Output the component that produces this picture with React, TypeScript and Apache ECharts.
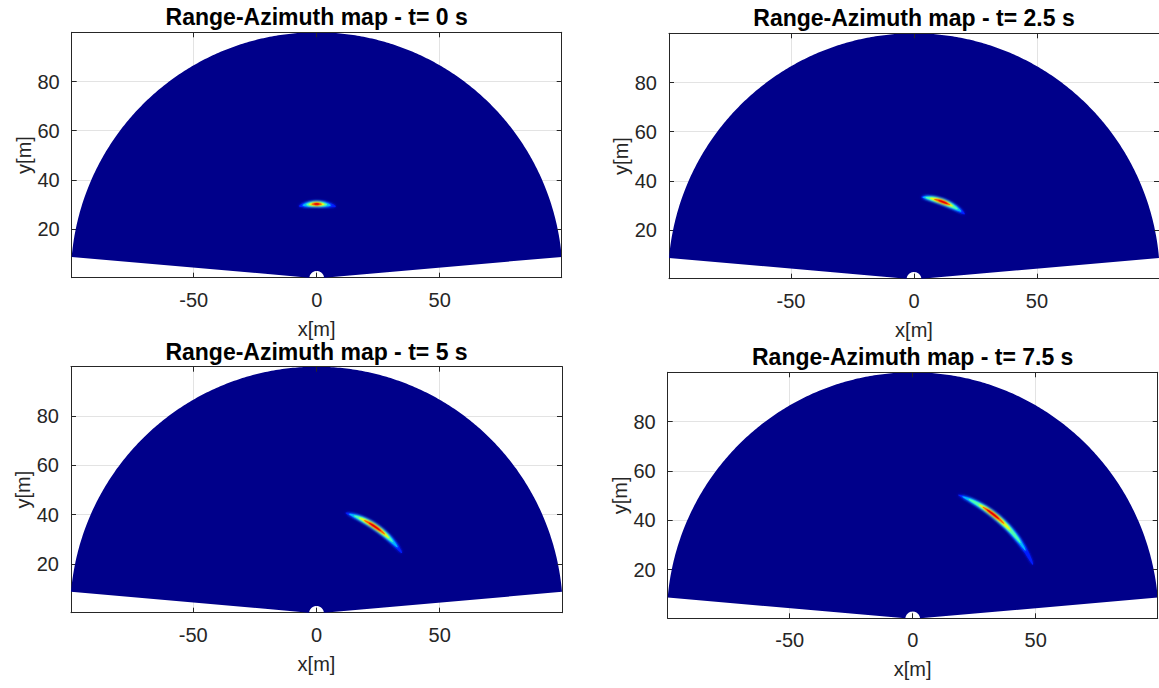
import React, { useEffect, useRef } from 'react';
import * as echarts from 'echarts';

// ---- data ----
const frameTimes = ['0', '2.5', '5', '7.5'];
const fanRangeLimits = [3, 100]; // m
const fanAzimuthLimits = [5, 175]; // deg
const targetRange = [30.2, 33.6, 42.4, 53.6]; // m, per frame
const intensityLevels = [0.15, 0.3, 0.45, 0.6, 0.78, 0.9];
const levelHalfWidth = [1.25, 1.0, 0.8, 0.62, 0.46, 0.3]; // m (radial half extent)
const levelAzStart = [
  [75, 79, 82, 84, 86, 88],
  [52, 55, 58, 62, 64, 66],
  [35, 39, 43, 46, 49, 52],
  [24, 31, 35, 42, 46, 49],
];
const levelAzEnd = [
  [104, 101, 98, 96, 94, 92],
  [85, 84, 82, 79, 76, 73],
  [74, 72, 69, 66, 63, 60],
  [70, 68, 65, 60, 58, 56],
];

// ---- layout ----
const GRIDS = [
  { left: 71.7, top: 32.3, width: 490, height: 245.4 },
  { left: 669, top: 33.3, width: 490, height: 245.4 },
  { left: 71, top: 366.7, width: 491, height: 246 },
  { left: 667.7, top: 372.3, width: 490, height: 246 },
];
const FONT = '"Liberation Sans", Arial, Helvetica, sans-serif';
const AXIS_COLOR = '#262626';

function jet(v: number): string {
  const c = (x: number) => Math.max(0, Math.min(1, x));
  const r = c(1.5 - Math.abs(4 * v - 3));
  const g = c(1.5 - Math.abs(4 * v - 2));
  const b = c(1.5 - Math.abs(4 * v - 1));
  return `rgb(${Math.round(r * 255)},${Math.round(g * 255)},${Math.round(b * 255)})`;
}

const D2R = Math.PI / 180;

export default function App() {
  const ref = useRef<HTMLDivElement>(null);
  useEffect(() => {
    if (!ref.current) return;
    const chart = echarts.init(ref.current, null, { renderer: 'svg' });

    const rMin = fanRangeLimits[0];
    const rMax = fanRangeLimits[1];
    const xMax = rMax * Math.cos(fanAzimuthLimits[0] * D2R);
    const yMin = rMin * Math.sin(fanAzimuthLimits[0] * D2R);
    const yMax = rMax;

    const xAxes: any[] = [];
    const yAxes: any[] = [];
    const series: any[] = [];
    const graphics: any[] = [];

    GRIDS.forEach((g, i) => {
      const common = {
        gridIndex: i,
        type: 'value',
        axisLine: { show: true, onZero: false, lineStyle: { color: AXIS_COLOR, width: 1 } },
        axisTick: { show: true, inside: true, length: 5, lineStyle: { color: AXIS_COLOR } },
      };
      xAxes.push({
        ...common,
        position: 'bottom',
        min: -xMax,
        max: xMax,
        splitNumber: 4,
        axisLabel: {
          showMinLabel: false,
          showMaxLabel: false,
          fontSize: 20,
          color: AXIS_COLOR,
          fontFamily: FONT,
          margin: 12,
        },
        splitLine: { show: true, lineStyle: { color: '#e3e3e3', width: 1 } },
        name: 'x[m]',
        nameLocation: 'middle',
        nameGap: 41,
        nameTextStyle: { fontSize: 20, color: AXIS_COLOR, fontFamily: FONT },
      });
      xAxes.push({
        ...common,
        position: 'top',
        min: -xMax,
        max: xMax,
        splitNumber: 4,
        axisLabel: { show: false },
        splitLine: { show: false },
        z: 10,
      });
      yAxes.push({
        ...common,
        position: 'left',
        min: yMin,
        max: yMax,
        splitNumber: 5,
        axisLabel: {
          showMinLabel: false,
          showMaxLabel: false,
          fontSize: 20,
          color: AXIS_COLOR,
          fontFamily: FONT,
          margin: 12,
        },
        splitLine: { show: true, lineStyle: { color: '#e3e3e3', width: 1 } },
        name: 'y[m]',
        nameLocation: 'middle',
        nameGap: 38,
        nameTextStyle: { fontSize: 20, color: AXIS_COLOR, fontFamily: FONT },
      });
      yAxes.push({
        ...common,
        position: 'right',
        min: yMin,
        max: yMax,
        splitNumber: 5,
        axisLabel: { show: false },
        splitLine: { show: false },
        z: 10,
      });

      // fan (background of the range-azimuth map)
      series.push({
        type: 'custom',
        xAxisIndex: 2 * i,
        yAxisIndex: 2 * i,
        data: [[fanRangeLimits[0], fanRangeLimits[1], fanAzimuthLimits[0], fanAzimuthLimits[1]]],
        renderItem: (params: any, api: any) => {
          const r0 = api.value(0);
          const r1 = api.value(1);
          const a0 = api.value(2);
          const a1 = api.value(3);
          const pts: number[][] = [];
          const steps = 340;
          for (let k = 0; k <= steps; k++) {
            const a = (a0 + ((a1 - a0) * k) / steps) * D2R;
            pts.push(api.coord([r1 * Math.cos(a), r1 * Math.sin(a)]));
          }
          for (let k = 0; k <= 40; k++) {
            const a = (a1 - ((a1 - a0) * k) / 40) * D2R;
            pts.push(api.coord([r0 * Math.cos(a), r0 * Math.sin(a)]));
          }
          return { type: 'polygon', shape: { points: pts }, style: { fill: jet(0.01) } };
        },
        silent: true,
        z: 2,
      });

      // target response (nested intensity levels)
      const blobData = intensityLevels.map((lv, k) => [
        targetRange[i],
        levelAzStart[i][k],
        levelAzEnd[i][k],
        levelHalfWidth[k],
        lv,
      ]);
      series.push({
        type: 'custom',
        xAxisIndex: 2 * i,
        yAxisIndex: 2 * i,
        data: blobData,
        renderItem: (params: any, api: any) => {
          const r = api.value(0);
          const a0 = api.value(1);
          const a1 = api.value(2);
          const hw = api.value(3);
          const lv = api.value(4);
          const N = 60;
          const outer: number[][] = [];
          const inner: number[][] = [];
          for (let k = 0; k <= N; k++) {
            const t = k / N;
            const a = (a0 + (a1 - a0) * t) * D2R;
            const w = hw * Math.sqrt(Math.sin(Math.PI * t));
            outer.push(api.coord([(r + w) * Math.cos(a), (r + w) * Math.sin(a)]));
            inner.unshift(api.coord([(r - w) * Math.cos(a), (r - w) * Math.sin(a)]));
          }
          const col = jet(lv);
          return {
            type: 'polygon',
            shape: { points: outer.concat(inner) },
            style: { fill: col, shadowBlur: 3, shadowColor: col },
          };
        },
        silent: true,
        z: 3,
      });

      graphics.push({
        type: 'text',
        x: g.left + g.width / 2,
        y: g.top - 15,
        style: {
          text: `Range-Azimuth map - t= ${frameTimes[i]} s`,
          fontSize: 23,
          fontWeight: 'bold',
          fontFamily: FONT,
          fill: '#000',
          align: 'center',
          verticalAlign: 'middle',
        },
      });
    });

    chart.setOption({
      animation: false,
      backgroundColor: '#ffffff',
      grid: GRIDS.map((g) => ({ ...g, containLabel: false })),
      xAxis: xAxes,
      yAxis: yAxes,
      series,
      graphic: graphics,
    });
    return () => chart.dispose();
  }, []);
  return (
    <div
      ref={ref}
      style={{ position: 'absolute', left: 0, top: 0, width: 1159, height: 688 }}
    />
  );
}
